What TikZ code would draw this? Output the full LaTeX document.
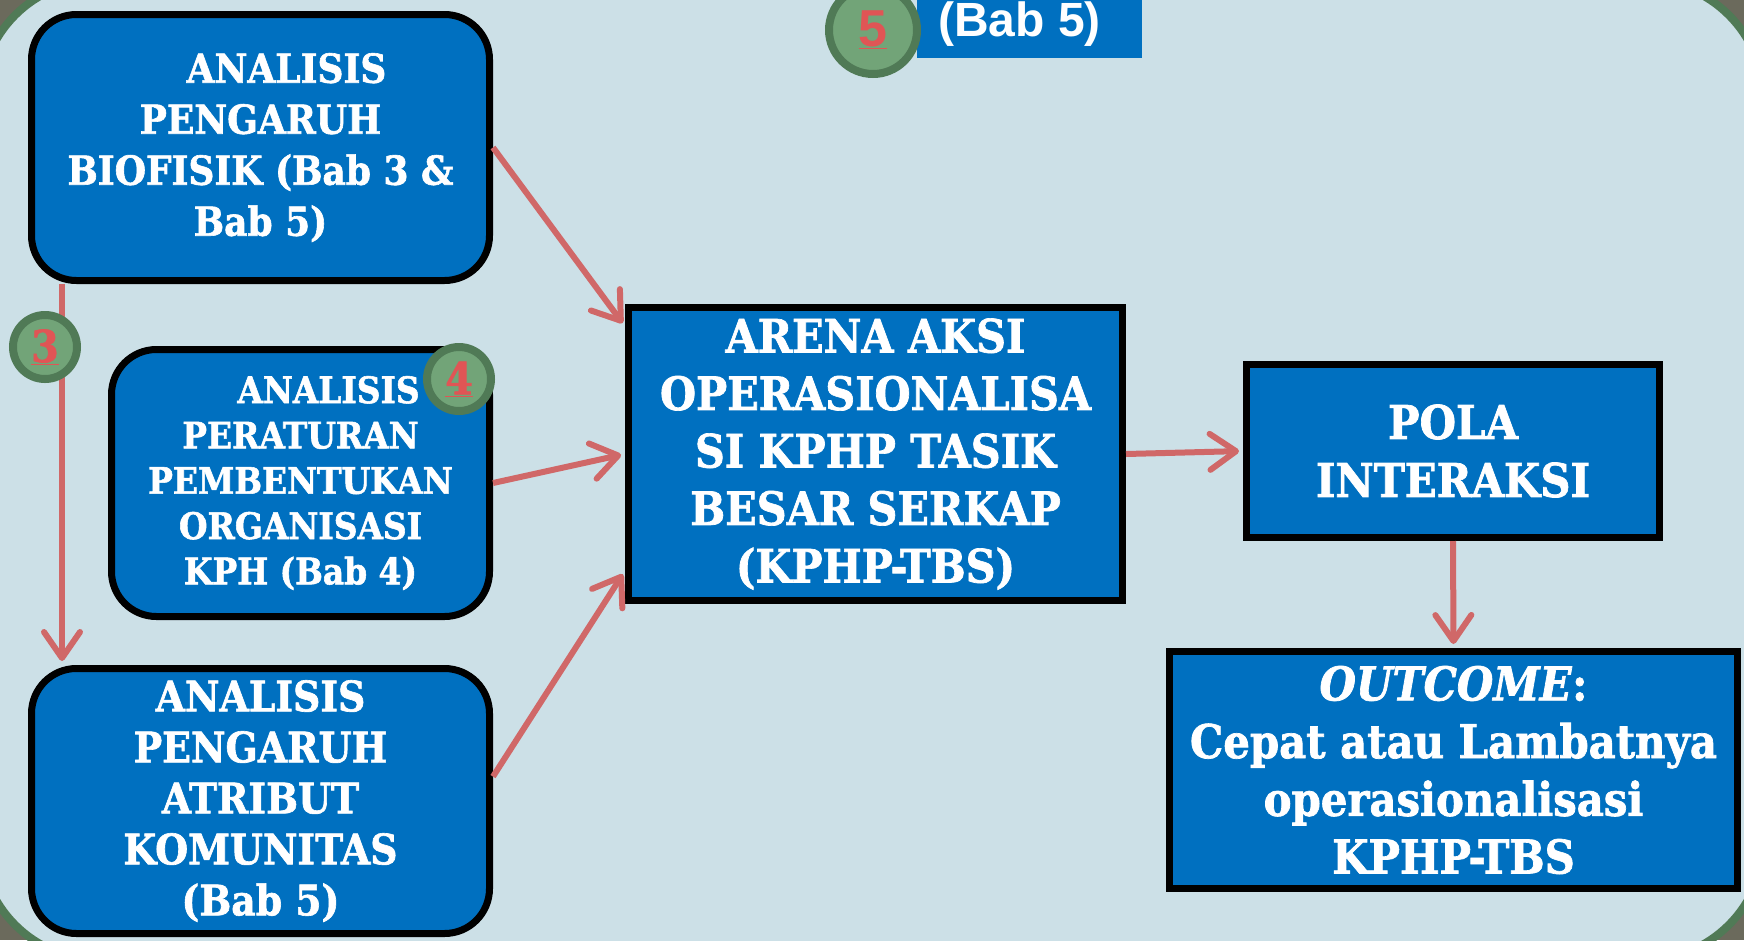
\documentclass[tikz,border=0pt]{standalone}
\usepackage{fontspec}
\usepackage{xcolor}
\usepackage{tikz}
\usetikzlibrary{arrows.meta}

\newfontfamily\boxfont{DejaVu Serif Condensed}[FakeBold=1.5]
\newfontfamily\numfont{Liberation Sans}

\definecolor{boxblue}{HTML}{0070C0}
\definecolor{paleblue}{HTML}{CCE0E7}
\definecolor{ringgreen}{HTML}{507A56}
\definecolor{numgreen}{HTML}{72A478}
\definecolor{numred}{HTML}{E05555}
\definecolor{arrowred}{HTML}{D06868}
\definecolor{outergray}{HTML}{6B6A5C}

\begin{document}
\begin{tikzpicture}[x=1pt, y=-1pt,
    roundbox/.style={draw=black, line width=7pt, fill=boxblue, rounded corners=45pt,
        inner sep=0pt, align=center, text=white},
    squarebox/.style={roundbox, sharp corners},
    numring/.style={circle, draw=ringgreen, fill=numgreen, line width=8pt,
        inner sep=0pt, text=numred},
    arr/.style={draw=arrowred, line width=6pt, shorten >=4pt,
        -{Straight Barb[length=26pt,width=36pt,round]}}]
    \useasboundingbox (0,0) rectangle (1744,940);
    \fill[outergray] (0,0) rectangle (1744,940);   %Rand
    \draw[fill=paleblue, draw=ringgreen, line width=8pt, rounded corners=120pt]
        (-20,-20) rectangle (1764,960);              %Hintergrund

    \node[fill=boxblue, minimum width=225pt, minimum height=68pt, inner sep=0pt,
        text=white, font=\numfont\bfseries\fontsize{48pt}{50pt}\selectfont]
        (bab) at (1029.5,24) {\raisebox{-5pt}{(Bab 5)}\hspace{20pt}\mbox{}};

    \node[roundbox, minimum width=458pt, minimum height=266pt,
        font=\boxfont\bfseries\fontsize{40pt}{51pt}\selectfont]
        (biofisik) at (260.5,147.5) {\hspace*{52pt}ANALISIS\\PENGARUH\\BIOFISIK (Bab 3 \&\\Bab 5)};
    \node[roundbox, minimum width=378pt, minimum height=267pt,
        font=\boxfont\bfseries\fontsize{36.5pt}{45.3pt}\selectfont]
        (peraturan) at (300.5,483) {\hspace*{56pt}ANALISIS\\PERATURAN\\PEMBENTUKAN\\ORGANISASI\\KPH (Bab 4)};
    \node[roundbox, minimum width=458pt, minimum height=265pt,
        font=\boxfont\bfseries\fontsize{42pt}{51pt}\selectfont]
        (atribut) at (260.5,801) {ANALISIS\\PENGARUH\\ATRIBUT\\KOMUNITAS\\(Bab 5)};
    \node[squarebox, minimum width=494pt, minimum height=293pt,
        font=\boxfont\bfseries\fontsize{46pt}{57.5pt}\selectfont]
        (arena) at (875.5,454) {ARENA AKSI\\OPERASIONALISA\\SI KPHP TASIK\\BESAR SERKAP\\(KPHP-TBS)};
    \node[squarebox, minimum width=413pt, minimum height=173pt,
        font=\boxfont\bfseries\fontsize{46.5pt}{58pt}\selectfont]
        (pola) at (1453,451) {POLA\\INTERAKSI};
    \node[squarebox, minimum width=568pt, minimum height=237pt,
        font=\boxfont\bfseries\fontsize{46.5pt}{57.7pt}\selectfont]
        (outcome) at (1453.5,770) {\textit{OUTCOME}:\\Cepat atau Lambatnya\\operasionalisasi\\KPHP-TBS};

    \draw[arr] ([xshift=34pt]biofisik.south west) -- ([xshift=34pt]atribut.north west);
    \draw[arr] (biofisik.east) -- (arena.153);
    \draw[arr] (peraturan.east) -- (arena.west);
    \draw[arr] (atribut.6) -- (arena.205);
    \draw[arr] (arena.east) -- (pola.west);
    \draw[arr] (pola.south) -- (outcome.north);

    \node[numring, minimum size=64pt, font=\boxfont\bfseries\fontsize{44pt}{46pt}\selectfont]
        (drei) at (45,347) {\underline{3}};
    \node[numring, minimum size=64pt, font=\boxfont\bfseries\fontsize{44pt}{46pt}\selectfont]
        (vier) at (459,379) {\underline{4}};
    \node[numring, minimum size=88pt, font=\numfont\bfseries\fontsize{52pt}{54pt}\selectfont]
        (fuenf) at (873,30) {\underline{5}};
\end{tikzpicture}
\end{document}
